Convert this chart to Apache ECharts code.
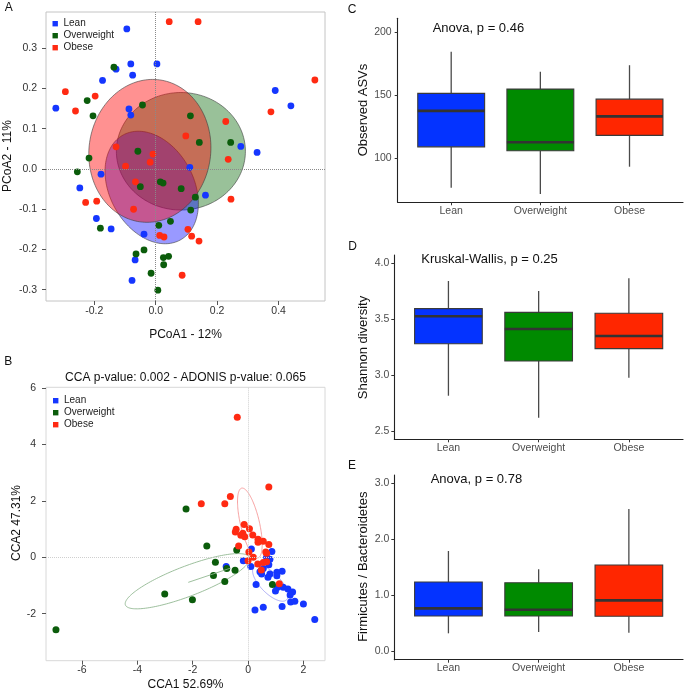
<!DOCTYPE html>
<html><head><meta charset="utf-8">
<script src="https://cdn.jsdelivr.net/npm/echarts@6/dist/echarts.min.js"></script>
<style>html,body{margin:0;padding:0;background:#fff}#c{width:685px;height:691px}</style>
</head><body><div id="c"></div>
<script>
// ---------- data ----------
const groups = ['Lean', 'Overweight', 'Obese'];

// Panel A: PCoA coordinates [PCoA1, PCoA2]
const pcoaLean = [[-0.094,0.348],[-0.081,0.261],[0.004,0.261],[-0.129,0.248],[-0.075,0.233],[-0.173,0.220],[0.389,0.195],[-0.325,0.151],[0.440,0.157],[-0.087,0.149],[-0.081,0.134],[0.277,0.056],[0.330,0.041],[-0.178,-0.013],[0.111,0.004],[-0.247,-0.047],[0.162,-0.065],[-0.193,-0.123],[-0.145,-0.149],[-0.038,-0.162],[-0.067,-0.226],[-0.077,-0.277]];
const pcoaOverweight = [[-0.136,0.253],[-0.223,0.170],[-0.204,0.132],[-0.043,0.159],[0.113,0.132],[0.142,0.066],[0.244,0.066],[-0.217,0.027],[-0.255,-0.007],[-0.058,0.044],[-0.050,-0.044],[0.015,-0.032],[0.024,-0.035],[0.083,-0.049],[0.129,-0.070],[0.114,-0.102],[-0.180,-0.147],[0.010,-0.140],[0.048,-0.130],[-0.064,-0.211],[-0.038,-0.201],[0.025,-0.220],[0.042,-0.217],[0.026,-0.238],[-0.015,-0.259],[0.007,-0.301]];
const pcoaObese = [[0.044,0.366],[0.138,0.366],[0.518,0.221],[-0.294,0.192],[-0.197,0.181],[-0.261,0.144],[0.375,0.142],[0.228,0.118],[0.098,0.082],[-0.129,0.055],[-0.009,0.037],[0.236,0.024],[-0.098,0.007],[-0.018,0.017],[-0.066,-0.032],[-0.228,-0.083],[-0.192,-0.080],[0.245,-0.075],[-0.072,-0.100],[0.013,-0.165],[0.027,-0.169],[0.105,-0.150],[0.117,-0.167],[0.141,-0.179],[0.086,-0.264]];
// ellipses: [centerX, centerY, radiusX, radiusY, rotationDeg]  (order: Overweight, Lean, Obese)
const pcoaEllipses = [[0.082,0.044,0.210,0.146,0],[-0.013,-0.046,0.137,0.1485,-28.4],[-0.019,0.045,0.198,0.178,8]];
const pcoaEllipseGroups = [1, 0, 2];

// Panel B: CCA coordinates [CCA1, CCA2]
const ccaLean = [[0.12,0.29],[0.86,0.20],[-0.17,-0.12],[0.67,0.0],[0.79,-0.07],[0.10,-0.33],[0.55,-0.40],[0.75,-0.27],[0.43,-0.51],[0.79,-0.59],[0.49,-0.59],[1.04,-0.53],[1.23,-0.50],[0.72,-0.71],[1.04,-0.66],[0.29,-0.97],[1.07,-1.06],[0.99,-1.20],[1.27,-1.06],[1.44,-1.13],[1.61,-1.23],[1.52,-1.34],[1.54,-1.59],[1.69,-1.56],[2.00,-1.66],[1.23,-1.75],[0.55,-1.77],[0.25,-1.87],[2.41,-2.21],[-0.79,-0.33]];
const ccaOverweight = [[-2.24,1.71],[-1.49,0.40],[-0.41,0.26],[-1.18,-0.18],[-0.77,-0.40],[-0.47,-0.46],[-1.25,-0.65],[-0.84,-0.86],[-3.01,-1.30],[-2.01,-1.51],[-6.94,-2.57],[0.88,-0.97]];
const ccaObese = [[-0.39,4.97],[0.75,2.49],[-0.64,2.16],[-1.69,1.90],[-0.84,1.90],[-0.14,1.16],[0.05,1.01],[-0.43,0.99],[-0.46,0.90],[-0.19,0.85],[-0.26,0.78],[0.17,0.79],[-0.12,0.73],[0.36,0.64],[0.36,0.53],[0.55,0.57],[0.75,0.45],[-0.34,0.40],[0.03,0.19],[0.64,0.19],[0.67,0.14],[0.0,-0.12],[0.19,0.0],[0.35,-0.24],[0.55,-0.19],[0.67,-0.16],[0.48,-0.45],[1.13,-0.94]];
const ccaEllipses = [[0.805,-0.92,0.84,0.355,45.6],[-2.19,-0.85,2.40,0.532,-21],[0.065,1.216,0.343,1.27,-13.2]];
const ccaEllipseGroups = [0, 1, 2];
const ccaOverweightSegment = [[-2.16,-0.89],[-0.65,-0.39]];

// Panels C-E: boxplots [min, Q1, median, Q3, max]
const boxCats = ['Lean', 'Overweight', 'Obese'];
const asvBox = [[76.4,108.9,137.5,151.4,184.6],[71.4,105.8,112.5,154.8,168.7],[93.1,118.0,133.1,146.8,173.8]];
const shannonBox = [[2.818,3.282,3.527,3.595,3.842],[2.621,3.128,3.413,3.562,3.753],[2.979,3.238,3.351,3.554,3.866]];
const fbBox = [[0.316,0.625,0.762,1.232,1.786],[0.339,0.625,0.738,1.220,1.459],[0.327,0.620,0.905,1.536,2.536]];

// tick labels
const pcoaXTicks = [-0.2, 0, 0.2, 0.4];
const pcoaYTicks = [-0.3, -0.2, -0.1, 0, 0.1, 0.2, 0.3];
const ccaXTicks = [-6, -4, -2, 0, 2];
const ccaYTicks = [-2, 0, 2, 4, 6];
const asvTicks = [100, 150, 200];
const shannonTicks = [2.5, 3.0, 3.5, 4.0];
const fbTicks = [0, 1, 2, 3];
const boxPos = [1, 2, 3];

// ---------- styling ----------
const FONT = 'Liberation Sans, Arial, Helvetica, sans-serif';
const ptColors = ['#1536ff', '#0b5c0b', '#ff2a12'];
const boxColors = ['#0433ff', '#008a00', '#ff2600'];
const ellFill = ['rgba(0,0,255,0.40)', 'rgba(0,100,0,0.40)', 'rgba(255,0,0,0.43)'];
const ellLine = ['rgba(150,150,240,0.9)', 'rgba(140,180,140,0.95)', 'rgba(245,140,140,0.9)'];

function ellipseRenderer(groupIdx, fills, strokes, lw) {
  return function (params, api) {
    const c = api.coord([api.value(0), api.value(1)]);
    const s = api.size([api.value(2), api.value(3)]);
    const r = api.value(4) * Math.PI / 180;
    const pts = [];
    for (let i = 0; i < 160; i++) {
      const t = i / 160 * Math.PI * 2;
      const ex = s[0] * Math.cos(t), ey = s[1] * Math.sin(t);
      pts.push([c[0] + ex * Math.cos(r) - ey * Math.sin(r), c[1] + ex * Math.sin(r) + ey * Math.cos(r)]);
    }
    const g = groupIdx[params.dataIndex];
    return { type: 'polygon', shape: { points: pts },
      style: { fill: fills ? fills[g] : 'none', stroke: strokes ? strokes[g] : 'rgba(60,60,60,0.75)', lineWidth: lw } };
  };
}

function boxRenderer(params, api) {
  const x = api.value(0);
  const lo = api.coord([x, api.value(1)]);
  const q1 = api.coord([x, api.value(2)]);
  const md = api.coord([x, api.value(3)]);
  const q3 = api.coord([x, api.value(4)]);
  const hi = api.coord([x, api.value(5)]);
  const hw = api.size([0.375, 0])[0];
  const fill = boxColors[params.dataIndex];
  return { type: 'group', children: [
    { type: 'line', shape: { x1: lo[0], y1: lo[1], x2: q1[0], y2: q1[1] }, style: { stroke: '#4a4a4a', lineWidth: 1.3 } },
    { type: 'line', shape: { x1: q3[0], y1: q3[1], x2: hi[0], y2: hi[1] }, style: { stroke: '#4a4a4a', lineWidth: 1.3 } },
    { type: 'rect', shape: { x: q3[0] - hw, y: q3[1], width: 2 * hw, height: q1[1] - q3[1] }, style: { fill: fill, stroke: '#3a3a3a', lineWidth: 1.1 } },
    { type: 'line', shape: { x1: md[0] - hw, y1: md[1], x2: md[0] + hw, y2: md[1] }, style: { stroke: '#333', lineWidth: 2.6 } }
  ]};
}

const fmt1 = v => (Math.abs(v) < 1e-9 ? 0 : v).toFixed(1);
const fmtInt = v => String(Math.round(v));

function scatterAxes(grid, xmin, xmax, ymin, ymax, xt, yt, xf, yf, ym, xm) {
  const lab = { color: '#333', fontSize: 10.5, fontFamily: FONT };
  return {
    x: { gridIndex: grid, type: 'value', min: xmin, max: xmax, axisLine: { show: false, onZero: false },
      axisTick: { show: true, customValues: xt, length: 4, lineStyle: { color: '#555' } },
      axisLabel: Object.assign({ customValues: xt, formatter: xf, margin: xm }, lab), splitLine: { show: false } },
    y: { gridIndex: grid, type: 'value', min: ymin, max: ymax, axisLine: { show: false, onZero: false },
      axisTick: { show: true, customValues: yt, length: 4, lineStyle: { color: '#555' } },
      axisLabel: Object.assign({ customValues: yt, formatter: yf, margin: ym }, lab), splitLine: { show: false } }
  };
}
function boxAxes(grid, ymin, ymax, yt, yf, xm, ym) {
  return {
    x: { gridIndex: grid, type: 'value', min: 0.4, max: 3.6,
      axisLine: { show: true, onZero: false, lineStyle: { color: '#222', width: 1.1 } },
      axisTick: { show: true, customValues: boxPos, length: 3, lineStyle: { color: '#333' } },
      axisLabel: { customValues: boxPos, formatter: v => boxCats[Math.round(v) - 1], color: '#4d4d4d', fontSize: 10.5, fontFamily: FONT, margin: xm },
      splitLine: { show: false } },
    y: { gridIndex: grid, type: 'value', min: ymin, max: ymax,
      axisLine: { show: true, onZero: false, lineStyle: { color: '#222', width: 1.1 } },
      axisTick: { show: true, customValues: yt, length: 3, lineStyle: { color: '#333' } },
      axisLabel: { customValues: yt, formatter: yf, color: '#4d4d4d', fontSize: 10.5, fontFamily: FONT, margin: ym },
      splitLine: { show: false } }
  };
}

const aAx = scatterAxes(0, -0.357, 0.551, -0.328, 0.39, pcoaXTicks, pcoaYTicks, fmt1, fmt1, 9, 5);
const bAx = scatterAxes(1, -7.30, 2.78, -3.67, 6.03, ccaXTicks, ccaYTicks, fmtInt, fmtInt, 10, 4);
const cAx = boxAxes(2, 64.8, 211.1, asvTicks, fmtInt, 3.5, 6);
const dAx = boxAxes(3, 2.429, 4.074, shannonTicks, fmt1, 3.5, 5);
const eAx = boxAxes(4, -0.155, 3.143, fbTicks, fmt1, 3, 5);

function scatter(name, data, xi, color, size, extra) {
  return Object.assign({ type: 'scatter', name: name, xAxisIndex: xi, yAxisIndex: xi, data: data,
    symbolSize: size, itemStyle: { color: color, opacity: 1 }, silent: true }, extra || {});
}
const zeroLines = (color) => ({ silent: true, symbol: 'none', label: { show: false },
  lineStyle: { type: 'dotted', color: color, width: 1 }, data: [{ xAxis: 0 }, { yAxis: 0 }] });

const series = [
  scatter(groups[0], pcoaLean, 0, ptColors[0], 6.8, { markLine: zeroLines('#8a8a8a') }),
  scatter(groups[1], pcoaOverweight, 0, ptColors[1], 6.8),
  scatter(groups[2], pcoaObese, 0, ptColors[2], 6.8),
  { type: 'custom', xAxisIndex: 0, yAxisIndex: 0, data: pcoaEllipses, silent: true,
    renderItem: ellipseRenderer(pcoaEllipseGroups, ellFill, null, 0.8) },
  scatter(groups[0], ccaLean, 1, ptColors[0], 7, { markLine: zeroLines('#cfcfcf') }),
  scatter(groups[1], ccaOverweight, 1, ptColors[1], 7),
  scatter(groups[2], ccaObese, 1, ptColors[2], 7),
  { type: 'custom', xAxisIndex: 1, yAxisIndex: 1, data: ccaEllipses, silent: true,
    renderItem: ellipseRenderer(ccaEllipseGroups, null, ellLine, 0.9) },
  { type: 'line', xAxisIndex: 1, yAxisIndex: 1, data: ccaOverweightSegment, symbol: 'none', silent: true,
    lineStyle: { color: ellLine[1], width: 0.9 } },
  { type: 'custom', xAxisIndex: 2, yAxisIndex: 2, silent: true, renderItem: boxRenderer,
    data: asvBox.map((b, i) => [boxPos[i]].concat(b)) },
  { type: 'custom', xAxisIndex: 3, yAxisIndex: 3, silent: true, renderItem: boxRenderer,
    data: shannonBox.map((b, i) => [boxPos[i]].concat(b)) },
  { type: 'custom', xAxisIndex: 4, yAxisIndex: 4, silent: true, renderItem: boxRenderer,
    data: fbBox.map((b, i) => [boxPos[i]].concat(b)) }
];

function txt(x, y, s, size, opts) {
  return Object.assign({ type: 'text', x: x, y: y, silent: true,
    style: Object.assign({ text: s, font: size + 'px ' + FONT, fill: '#111', align: 'center', verticalAlign: 'middle' }, (opts && opts.style) || {}) },
    (opts && opts.el) || {});
}
const vert = { el: { rotation: Math.PI / 2 } };
const leftA = { style: { align: 'left' } };

const graphics = [
  txt(8.7, 7.5, 'A', 12), txt(8.3, 362, 'B', 12), txt(352, 9.2, 'C', 12), txt(352.5, 246.2, 'D', 12), txt(352, 465.5, 'E', 12),
  txt(185.5, 335, 'PCoA1 - 12%', 12), txt(8, 156, 'PCoA2 - 11%', 12, vert),
  txt(185.5, 378, 'CCA p-value: 0.002 - ADONIS p-value: 0.065', 12),
  txt(185.5, 685, 'CCA1 52.69%', 12), txt(16.5, 523, 'CCA2 47.31%', 12, vert),
  txt(363.5, 110, 'Observed ASVs', 13, vert), txt(363.5, 347.5, 'Shannon diversity', 13, vert),
  txt(363.5, 566.7, 'Firmicutes / Bacteroidetes', 13, vert),
  txt(432.7, 28.3, 'Anova, p = 0.46', 13, leftA), txt(421.3, 259, 'Kruskal-Wallis, p = 0.25', 13, leftA),
  txt(430.7, 479, 'Anova, p = 0.78', 13, leftA)
];
// legends (A and B)
[[55.2, 23.7], [55.7, 400.7]].forEach(([lx, ly]) => {
  groups.forEach((g, i) => {
    graphics.push({ type: 'rect', silent: true, shape: { x: lx - 2.7, y: ly + i * 12 - 2.7, width: 5.4, height: 5.4 }, style: { fill: ptColors[i] } });
    graphics.push(txt(lx + 8.3, ly + i * 12, g, 10, { style: { align: 'left', fill: '#222' } }));
  });
});

const chart = echarts.init(document.getElementById('c'), null, { renderer: 'canvas' });
chart.setOption({
  animation: false,
  backgroundColor: '#fff',
  textStyle: { fontFamily: FONT },
  grid: [
    { left: 46, top: 12, width: 279, height: 289, show: true, borderColor: '#c4c4c4', borderWidth: 1, backgroundColor: 'transparent' },
    { left: 46, top: 387.3, width: 279, height: 273.4, show: true, borderColor: '#d8d8d8', borderWidth: 1, backgroundColor: 'transparent' },
    { left: 397.7, top: 18.3, width: 285.3, height: 184 },
    { left: 394.3, top: 255, width: 288.7, height: 184.3 },
    { left: 394.3, top: 475, width: 288.7, height: 184.7 }
  ],
  xAxis: [aAx.x, bAx.x, cAx.x, dAx.x, eAx.x],
  yAxis: [aAx.y, bAx.y, cAx.y, dAx.y, eAx.y],
  series: series,
  graphic: graphics
});
</script>
</body></html>
